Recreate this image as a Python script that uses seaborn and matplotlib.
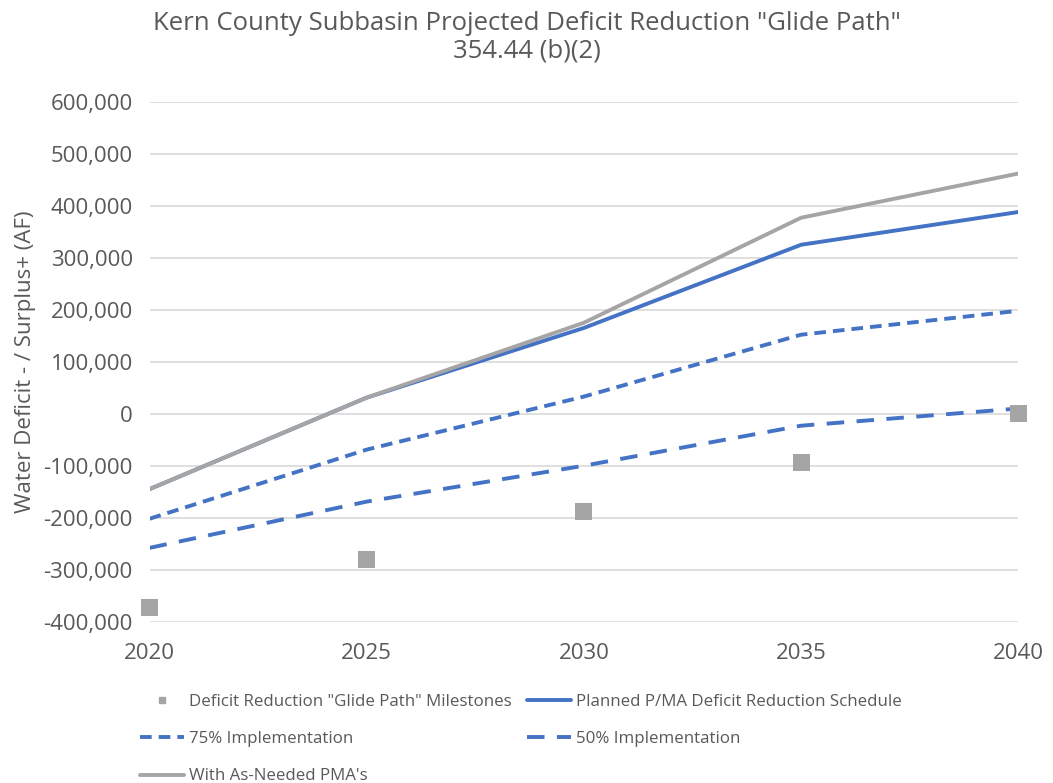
import matplotlib
matplotlib.use("Agg")
import matplotlib.pyplot as plt
import matplotlib.ticker as mticker
from matplotlib.lines import Line2D
import seaborn as sns

# values (acre-feet)
years = [2020, 2025, 2030, 2035, 2040]
milestones = [-373000, -281000, -188000, -94000, 0]
planned = [-145000, 31000, 165000, 325000, 388000]
impl_75 = [-202000, -69000, 33000, 152000, 198000]
impl_50 = [-258000, -169000, -100000, -23000, 10000]
as_needed = [-145000, 31000, 175000, 377000, 462000]

labels = {
    "milestones": 'Deficit Reduction "Glide Path" Milestones',
    "planned": "Planned P/MA Deficit Reduction Schedule",
    "impl_75": "75% Implementation",
    "impl_50": "50% Implementation",
    "as_needed": "With As-Needed PMA's",
}

blue = "#4472C4"
gray = "#A5A5A5"
text_color = "#595959"
dash_75 = (3, 1.8)
dash_50 = (4.5, 3.2)

sns.set_theme(style="white")
plt.rcParams["font.family"] = ["Open Sans", "DejaVu Sans"]

fig = plt.figure(figsize=(10.53, 7.83), dpi=100)
ax = fig.add_axes([0.142, 0.206, 0.825, 0.664])

sns.lineplot(x=years, y=planned, ax=ax, color=blue, linewidth=2.8)
l75 = sns.lineplot(x=years, y=impl_75, ax=ax, color=blue, linewidth=2.8).lines[-1]
l75.set_dashes(dash_75)
l50 = sns.lineplot(x=years, y=impl_50, ax=ax, color=blue, linewidth=2.8).lines[-1]
l50.set_dashes(dash_50)
# gray line sits on top of the blue one where they overlap
sns.lineplot(x=years, y=as_needed, ax=ax, color=gray, linewidth=2.8)
sns.scatterplot(x=years, y=milestones, ax=ax, color=gray, marker="s", s=150,
                edgecolor="none", clip_on=False, zorder=5)

ax.set_xlim(2020, 2040)
ax.set_ylim(-400000, 600000)
ax.set_xticks(years)
ax.set_yticks(range(-400000, 600001, 100000))
ax.yaxis.set_major_formatter(mticker.FuncFormatter(lambda v, p: f"{int(v):,}"))
ax.grid(axis="y", color="#D9D9D9", linewidth=1.2)
ax.set_axisbelow(True)
for s in ax.spines.values():
    s.set_visible(False)
ax.tick_params(axis="both", labelsize=16, colors=text_color, length=0)
ax.tick_params(axis="x", pad=15)
ax.tick_params(axis="y", pad=12)
ax.set_ylabel("Water Deficit - / Surplus+ (AF)", fontsize=16, color=text_color)
ax.yaxis.set_label_coords(-0.131, 0.5)

fig.text(0.5, 0.970, 'Kern County Subbasin Projected Deficit Reduction "Glide Path"',
         ha="center", va="center", fontsize=18.5, color=text_color)
fig.text(0.5, 0.935, "354.44 (b)(2)", ha="center", va="center", fontsize=18.5,
         color=text_color)

h_ms = Line2D([], [], color=gray, marker="s", linestyle="none", markersize=5)
h_pl = Line2D([], [], color=blue, linewidth=2.8)
h_75 = Line2D([], [], color=blue, linewidth=2.8, dashes=dash_75)
h_50 = Line2D([], [], color=blue, linewidth=2.8, dashes=dash_50)
h_an = Line2D([], [], color=gray, linewidth=2.8)
handles = [h_ms, h_75, h_an, h_pl, h_50]
names = [labels["milestones"], labels["impl_75"], labels["as_needed"],
         labels["planned"], labels["impl_50"]]
fig.legend(handles, names, ncol=2, frameon=False, loc="upper left",
           bbox_to_anchor=(0.118, 0.133), fontsize=12.2, handlelength=2.6,
           handletextpad=0.3, columnspacing=0.9, labelspacing=1.25,
           labelcolor=text_color)

fig.savefig("out.png", dpi=100)
